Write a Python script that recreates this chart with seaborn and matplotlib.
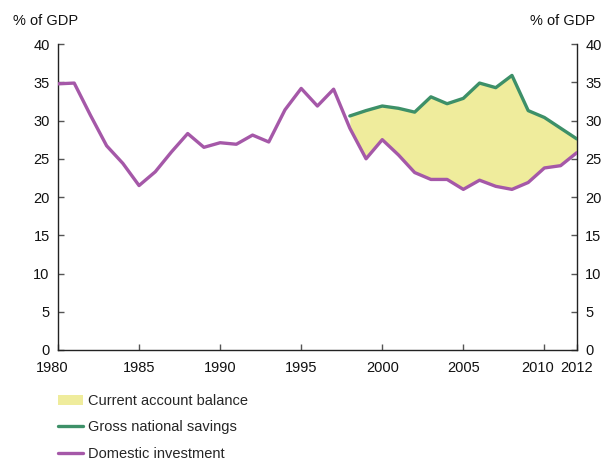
import matplotlib
matplotlib.use("Agg")
import matplotlib.pyplot as plt
import matplotlib.transforms as mtrans
import pandas as pd
import seaborn as sns
from matplotlib.patches import Patch
from matplotlib.lines import Line2D

# data
years = list(range(1980, 2013))
investment = [34.8, 34.9, 30.7, 26.7, 24.4, 21.5, 23.3, 25.9, 28.3, 26.5,
              27.1, 26.9, 28.1, 27.2, 31.4, 34.2, 31.9, 34.1, 29.0, 25.0,
              27.5, 25.5, 23.2, 22.3, 22.3, 21.0, 22.2, 21.4, 21.0, 21.9,
              23.8, 24.1, 25.8]
savings_years = list(range(1998, 2013))
savings = [30.6, 31.3, 31.9, 31.6, 31.1, 33.1, 32.2, 32.9, 34.9, 34.3,
           35.9, 31.3, 30.4, 29.0, 27.6]
xticks = [1980, 1985, 1990, 1995, 2000, 2005, 2010, 2012]
yticks = [0, 5, 10, 15, 20, 25, 30, 35, 40]

purple = "#a558a8"
green = "#3d9068"
yellow = "#efec9c"
fs = 10.5

sns.set_style("white")
plt.rcParams['font.family'] = ['Liberation Sans', 'DejaVu Sans']

df_inv = pd.DataFrame({"year": years, "value": investment})
df_sav = pd.DataFrame({"year": savings_years, "value": savings})
inv_overlap = df_inv[df_inv["year"] >= 1998]["value"].values

fig = plt.figure(figsize=(6.04, 4.59), dpi=100)
ax = fig.add_axes([0.096, 0.2375, 0.859, 0.6665])

ax.fill_between(savings_years, inv_overlap, savings, color=yellow, lw=0, zorder=1)
sns.lineplot(data=df_sav, x="year", y="value", color=green, lw=2.4, ax=ax, zorder=3)
sns.lineplot(data=df_inv, x="year", y="value", color=purple, lw=2.4, ax=ax, zorder=3)

ax.set_xlim(1980, 2012)
ax.set_ylim(0, 40)
ax.set_xticks(xticks)
ax.set_yticks(yticks)
ax.set_xlabel("")
ax.set_ylabel("")
for s in ["left", "right", "bottom"]:
    ax.spines[s].set_visible(True)
    ax.spines[s].set_color("#222222")
    ax.spines[s].set_linewidth(1.0)
ax.spines["top"].set_visible(False)
ax.tick_params(axis="both", direction="in", length=4, width=1, color="#555555",
               labelsize=fs, labelcolor="#111111")
ax.tick_params(axis="y", right=True, labelright=True, left=True, labelleft=True, pad=6)
ax.tick_params(axis="x", bottom=True, pad=8)

# nudge crowded end labels like the original
xl = ax.get_xticklabels()
xl[0].set_transform(xl[0].get_transform() + mtrans.ScaledTranslation(-6 / 100, 0, fig.dpi_scale_trans))
xl[6].set_transform(xl[6].get_transform() + mtrans.ScaledTranslation(-7 / 100, 0, fig.dpi_scale_trans))

fig.text(0.021, 0.954, "% of GDP", fontsize=fs, color="#111111", ha="left", va="center")
fig.text(0.985, 0.954, "% of GDP", fontsize=fs, color="#111111", ha="right", va="center")

handles = [Patch(facecolor=yellow, edgecolor="none"),
           Line2D([0], [0], color=green, lw=2.4),
           Line2D([0], [0], color=purple, lw=2.4)]
labels = ["Current account balance", "Gross national savings", "Domestic investment"]
fig.legend(handles, labels, loc="upper left", bbox_to_anchor=(0.077, 0.167),
           frameon=False, fontsize=fs, handlelength=1.7, handleheight=0.75,
           labelspacing=0.85, handletextpad=0.35, borderpad=0.3)

fig.savefig("out.png", dpi=100)
